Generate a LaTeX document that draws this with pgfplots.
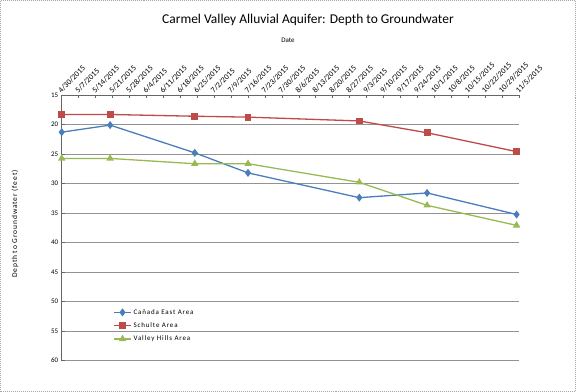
\documentclass[border=0pt]{standalone}
\usepackage{pgfplots}
\pgfplotsset{compat=1.18}
\usepackage{fontspec}
\setmainfont{Carlito}
\newfontfamily\spaced[LetterSpace=12]{Carlito}
\definecolor{cblue}{HTML}{4A7EBB}
\definecolor{cred}{HTML}{BE4B48}
\definecolor{cgreen}{HTML}{98B954}
\begin{document}
\begin{tikzpicture}
\useasboundingbox (0bp,0bp) rectangle (576bp,392bp);
\draw[gray!70, densely dotted, line width=1bp] (0.5bp,0.5bp) rectangle (575.5bp,391.5bp);
\node[font=\fontsize{13.5}{15}\selectfont] at (308bp,372bp) {Carmel Valley Alluvial Aquifer: Depth to Groundwater};
\node[font=\fontsize{7}{8}\selectfont] at (288bp,352bp) {Date};
\node[font=\fontsize{7.5}{8}\spaced\selectfont, rotate=90] at (15bp,168bp) {Depth to Groundwater (feet)};
\begin{axis}[
  at={(61.7bp,31.5bp)}, anchor=south west,
  scale only axis, width=457.3bp, height=265.5bp,
  xmin=0, xmax=189, ymin=15, ymax=60, y dir=reverse,
  axis x line*=top, axis y line*=left,
  axis line style={gray!80!black, line width=0.8bp},
  /pgf/number format/assume math mode=true,
  ytick={15,20,...,60},
  yticklabel style={font=\fontsize{7}{8}\selectfont},
  xtick={0,7,...,189},
  xticklabels={4/30/2015,5/7/2015,5/14/2015,5/21/2015,5/28/2015,6/4/2015,6/11/2015,6/18/2015,6/25/2015,7/2/2015,7/9/2015,7/16/2015,7/23/2015,7/30/2015,8/6/2015,8/13/2015,8/20/2015,8/27/2015,9/3/2015,9/10/2015,9/17/2015,9/24/2015,10/1/2015,10/8/2015,10/15/2015,10/22/2015,10/29/2015,11/5/2015},
  xticklabel style={font=\fontsize{8}{9}\selectfont, rotate=45, anchor=south west, inner sep=1bp},
  tick style={gray!80!black, line width=0.6bp},
  major tick length=3bp,
  ymajorgrids,
  grid style={gray!85, line width=0.8bp},
  legend style={at={(0.106,0.209)}, anchor=north west, draw=none, fill=none,
    font=\fontsize{7}{8}\spaced\selectfont, row sep=3bp},
  legend cell align=left,
]
\addplot[cblue, line width=1.3bp, mark=diamond*, mark size=3bp, mark options={fill=cblue}]
  coordinates {(0,21.3) (20,20.1) (55,24.8) (77,28.2) (123,32.4) (151,31.6) (188,35.25)};
\addlegendentry{Cañada East Area}
\addplot[cred, line width=1.3bp, mark=square*, mark size=2.8bp, mark options={fill=cred}]
  coordinates {(0,18.3) (20,18.3) (55,18.6) (77,18.75) (123,19.4) (151,21.4) (188,24.6)};
\addlegendentry{Schulte Area}
\addplot[cgreen, line width=1.3bp, mark=triangle*, mark size=3bp, mark options={fill=cgreen}]
  coordinates {(0,25.75) (20,25.75) (55,26.65) (77,26.65) (123,29.8) (151,33.7) (188,37.1)};
\addlegendentry{Valley Hills Area}
\end{axis}
\end{tikzpicture}
\end{document}
